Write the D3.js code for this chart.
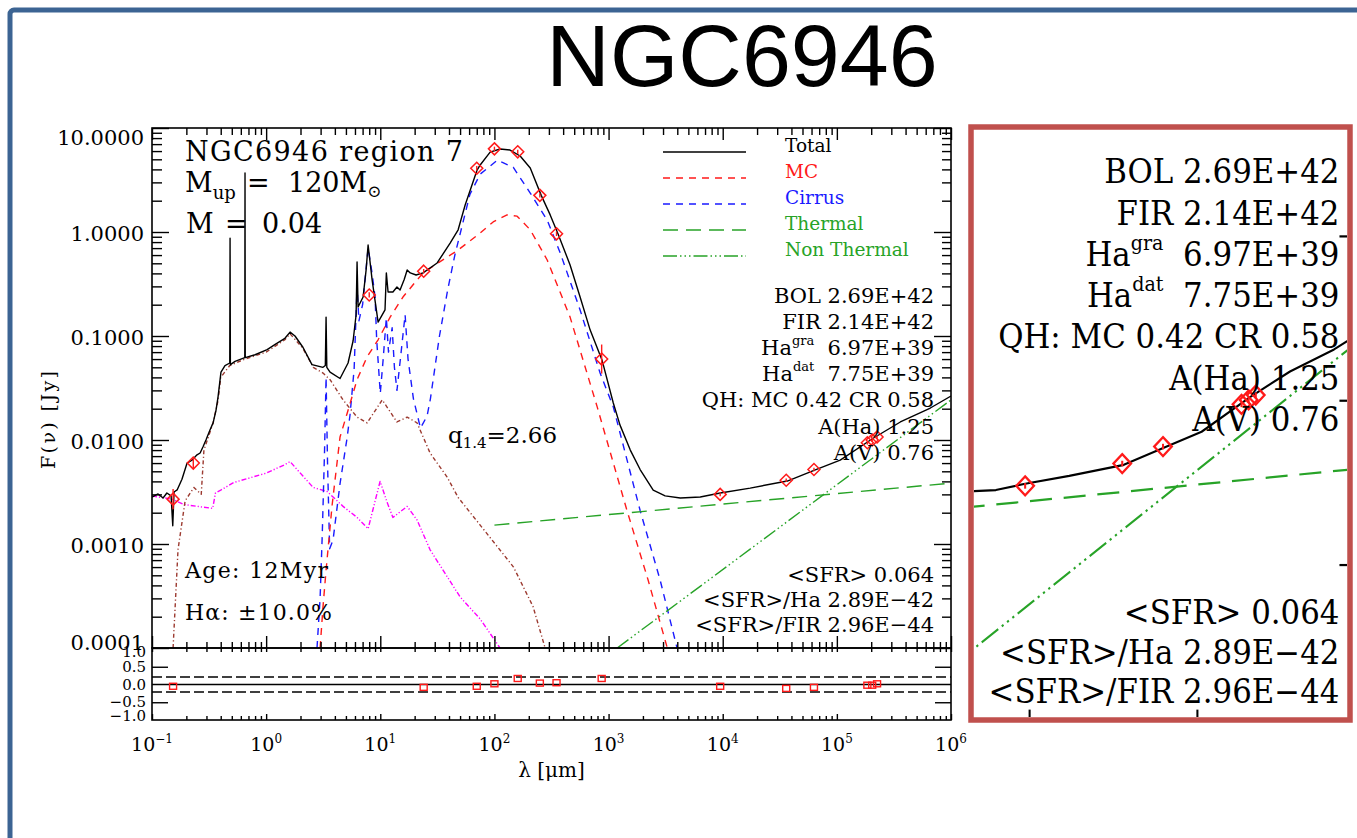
<!DOCTYPE html>
<html><head><meta charset="utf-8">
<script src="https://cdn.jsdelivr.net/npm/d3@7"></script>
<style>
html,body{margin:0;padding:0;background:#fff;}
svg{display:block}
text{font-family:"DejaVu Serif",serif;}
</style></head><body>
<svg id="chart" width="1357" height="838"></svg>
<script>
// ---------------- DATA (λ in µm, F(ν) in Jy) ----------------
const totalFit = [
[0.100,0.00283],[0.113,0.00303],[0.125,0.00277],[0.135,0.00309],[0.147,0.00290],[0.152,0.00150],[0.156,0.00316],[0.166,0.00331],[0.183,0.00420],[0.203,0.00600],[0.224,0.00640],[0.248,0.00720],[0.264,0.00750],[0.280,0.00860],[0.297,0.0100],[0.322,0.0125],[0.343,0.0146],[0.364,0.0194],[0.379,0.0260],[0.402,0.0450],[0.436,0.0520],[0.480,0.0550],[0.483,0.870],[0.486,0.0530],[0.534,0.0570],[0.650,0.0620],[0.653,3.69],[0.656,0.0620],[0.80,0.0660],[1.02,0.0740],[1.20,0.0830],[1.46,0.0950],[1.62,0.109],[1.79,0.100],[2.10,0.0780],[2.52,0.0530],[3.15,0.0500],[3.30,0.0520],[3.35,0.152],[3.40,0.0500],[3.63,0.0450],[4.44,0.0390],[5.22,0.0550],[5.78,0.0900],[6.14,0.160],[6.26,0.515],[6.39,0.190],[7.07,0.237],[7.51,0.430],[7.82,0.750],[8.48,0.346],[9.57,0.136],[11.0,0.178],[11.3,0.404],[11.7,0.265],[12.9,0.265],[14.0,0.296],[14.9,0.277],[16.2,0.350],[17.2,0.431],[18.3,0.404],[20.6,0.386],[23.7,0.404],[31.5,0.504],[40.9,0.783],[48.1,1.05],[55.4,1.82],[70.5,3.94],[75.0,4.41],[91.7,5.87],[112,6.28],[137,6.14],[168,5.38],[206,4.12],[257,2.25],[308,1.46],[361,0.957],[460,0.482],[563,0.237],[690,0.114],[879,0.058],[1100,0.0227],[1260,0.0139],[1550,0.0080],[1890,0.0052],[2460,0.0033],[3130,0.0029],[4250,0.00277],[6360,0.00283],[9510,0.00309],[17400,0.00345],[36800,0.00403],[64700,0.00515],[107000,0.0064],[208000,0.0104],[360000,0.0149],[659000,0.0203],[1000000,0.0265]
];
const mcFit = [
[2.97,1e-4],[3.15,0.00025],[3.35,0.00056],[3.79,0.0024],[4.44,0.0107],[5.12,0.018],[6.26,0.038],[7.66,0.063],[9.57,0.092],[12.2,0.152],[15.8,0.237],[21.0,0.346],[23.7,0.404],[38.5,0.575],[48.1,0.671],[75,0.978],[97.5,1.25],[129,1.46],[158,1.42],[206,1.05],[290,0.538],[460,0.152],[795,0.0208],[1450,0.0021],[2220,0.00045],[3270,1e-4]
];
const cirrusFit = [
[2.79,1e-4],[2.97,0.0003],[3.10,0.0012],[3.25,0.008],[3.35,0.040],[3.45,0.006],[3.60,0.0009],[3.86,0.0011],[4.44,0.0038],[5.12,0.0105],[5.43,0.0174],[5.90,0.048],[6.26,0.30],[6.50,0.14],[7.00,0.20],[7.82,0.70],[8.48,0.40],[9.00,0.237],[9.30,0.092],[10.0,0.028],[10.6,0.06],[11.3,0.15],[11.8,0.07],[12.7,0.12],[13.3,0.05],[14.0,0.03],[15.0,0.06],[16.5,0.16],[17.5,0.06],[19.5,0.025],[22.5,0.013],[25.7,0.017],[27.5,0.025],[33,0.10],[39,0.28],[45,0.60],[61,2.3],[75,3.6],[106,4.9],[146,4.2],[206,2.37],[290,1.30],[377,0.63],[563,0.178],[843,0.044],[1100,0.0208],[1890,0.0021],[2830,0.00045],[3980,1e-4]
];
const starlight = [
[0.153,1e-4],[0.169,0.00088],[0.195,0.0026],[0.233,0.0035],[0.27,0.0030],[0.285,0.0080],[0.343,0.0146],[0.379,0.024],[0.40,0.040],[0.48,0.052],[0.65,0.060],[1.0,0.070],[1.46,0.092],[1.62,0.105],[2.1,0.076],[2.59,0.050],[3.15,0.044],[3.63,0.038],[4.72,0.0243],[6.26,0.0166],[7.66,0.0146],[10.4,0.0243],[14.0,0.0149],[17.2,0.0166],[21.0,0.0146],[27.3,0.0075],[38.5,0.0044],[48.1,0.0028],[75,0.00152],[147,0.0006],[218,0.00025],[278,1e-4]
];
const starlightEscaped = [
[0.10,0.0029],[0.15,0.0027],[0.19,0.0024],[0.25,0.0023],[0.34,0.0022],[0.36,0.0031],[0.40,0.0033],[0.52,0.0039],[1.0,0.0048],[1.46,0.0058],[1.62,0.0062],[2.10,0.0045],[2.58,0.0035],[3.42,0.0032],[4.72,0.0023],[6.26,0.0018],[7.82,0.0014],[9.96,0.0040],[11.5,0.0025],[12.9,0.0018],[17.2,0.0023],[21.0,0.0017],[27.3,0.00088],[50,0.00031],[75,0.00019],[112,1e-4]
];
const thermalFit = [[100,0.00152],[1000000,0.00385]];
const nonThermalFit = [[1190,1e-4],[1000000,0.0243]];

const obsWavelength = [0.153,0.23,8.0,24,70,100,160,250,350,870,9500,36000,63000,185000,204000,225000];
const obsFlux       = [0.0027,0.0060,0.248,0.42,4.1,6.3,5.9,2.25,0.96,0.060,0.0030,0.0041,0.0052,0.0094,0.0100,0.0107];
const obsErrFactor  = [1.25,1.12,1.06,1.05,1.05,1.05,1.05,1.05,1.05,1.38,1.04,1.04,1.04,1.04,1.04,1.04];
const residual      = [-0.05,null,null,-0.08,-0.05,0.02,0.17,0.04,0.05,0.17,-0.05,-0.11,-0.08,-0.02,-0.02,0.02];
const residualBand  = 0.21;

const yTickValues = [1e-4,1e-3,1e-2,1e-1,1,10];
const yTickLabels = ["0.0001","0.0010","0.0100","0.1000","1.0000","10.0000"];
const xTickValues = [0.1,1,10,100,1e3,1e4,1e5,1e6];
const xTickExponents = ["\u22121","0","1","2","3","4","5","6"];
const resTickValues = [1,0.5,0,-0.5,-1];
const resTickLabels = ["1.0","0.5","0.0","\u22120.5","\u22121.0"];

const legendNames = ["Total","MC","Cirrus","Thermal","Non Thermal"];
const infoLines1 = [["BOL","","2.69E+42"],["FIR","","2.14E+42"],["Ha","gra","6.97E+39"],["Ha","dat","7.75E+39"],["QH: MC 0.42 CR","","0.58"],["A(Ha)","","1.25"],["A(V)","","0.76"]];
const infoLines2 = ["<SFR> 0.064","<SFR>/Ha 2.89E\u221242","<SFR>/FIR 2.96E\u221244"];

// ---------------- STYLE ----------------
const C = {black:"#000", red:"#ff1a1a", blue:"#1a1aff", green:"#27a327", brown:"#9c3a30", magenta:"#ff00ff"};
const DASH = {mc:"7,6", cirrus:"7,6", thermal:"15,8", nonth:"14,3,1.5,3,1.5,3,1.5,3", brown:"4,2.5,1.2,2.5", magenta:"5,2,1.2,2,1.2,2"};

const svg = d3.select("#chart");
const defs = svg.append("defs");
const L=152, Rr=951, T=128, B=648, RT=649, RB=720;
const x = d3.scaleLog().domain([0.1,1e6]).range([L,Rr]);
const y = d3.scaleLog().domain([1e-4,10]).range([B,T]);
const yr = d3.scaleLinear().domain([-1,1]).range([RB,RT]);

defs.append("clipPath").attr("id","plotClip").append("rect")
  .attr("x",L).attr("y",T).attr("width",Rr-L).attr("height",B-T);

const minors = (lo,hi)=>{const a=[];for(let d=lo;d<hi*0.999;d*=10)for(let k=2;k<=9;k++)a.push(k*d);return a;};
const xMinor = minors(0.1,1e6), yMinor = minors(1e-4,10);

function ticks(g, axisFn, scale, values, len, transformAttr){
  const a = g.append("g").attr("transform",transformAttr)
    .call(axisFn(scale).tickValues(values).tickSize(len).tickFormat(""));
  a.select(".domain").remove();
  a.selectAll("text").remove();
  a.selectAll("line").attr("stroke","#000").attr("stroke-width",1.4);
}

function drawPlot(g, inset){
  const line = d3.line().x(d=>x(d[0])).y(d=>y(d[1]));
  const cg = g.append("g").attr("clip-path","url(#plotClip)");
  const series = [
    [starlightEscaped,C.magenta,DASH.magenta],
    [starlight,C.brown,DASH.brown],
    [cirrusFit,C.blue,DASH.cirrus],
    [mcFit,C.red,DASH.mc],
    [thermalFit,C.green,DASH.thermal],
    [nonThermalFit,C.green,DASH.nonth],
    [totalFit,C.black,null]
  ];
  series.forEach(([d,col,dash])=>{
    cg.append("path").datum(d).attr("d",line).attr("fill","none")
      .attr("stroke",col).attr("stroke-width",1.4)
      .attr("stroke-dasharray",dash).attr("stroke-linejoin","round");
  });
  const obs = obsWavelength.map((w,i)=>({w,f:obsFlux[i],e:obsErrFactor[i],r:residual[i]}));
  cg.selectAll(".err").data(obs).join("line")
    .attr("x1",d=>x(d.w)).attr("x2",d=>x(d.w))
    .attr("y1",d=>y(d.f/d.e)).attr("y2",d=>y(d.f*d.e))
    .attr("stroke",C.red).attr("stroke-width",1.4);
  cg.selectAll(".dia").data(obs).join("path")
    .attr("transform",d=>`translate(${x(d.w)},${y(d.f)})`)
    .attr("d","M0,-6L6,0L0,6L-6,0Z").attr("fill","none")
    .attr("stroke",C.red).attr("stroke-width",1.5);

  g.append("rect").attr("x",L).attr("y",T).attr("width",Rr-L).attr("height",B-T)
    .attr("fill","none").attr("stroke","#000").attr("stroke-width",1.6);
  g.append("rect").attr("x",L).attr("y",B).attr("width",Rr-L).attr("height",RB-B)
    .attr("fill","none").attr("stroke","#000").attr("stroke-width",1.6);

  ticks(g,d3.axisRight,y,yTickValues,17,`translate(${L},0)`);
  ticks(g,d3.axisRight,y,yMinor,10,`translate(${L},0)`);
  ticks(g,d3.axisLeft,y,yTickValues,17,`translate(${Rr},0)`);
  ticks(g,d3.axisLeft,y,yMinor,9,`translate(${Rr},0)`);
  ticks(g,d3.axisBottom,x,xTickValues,12,`translate(0,${T})`);
  ticks(g,d3.axisBottom,x,xMinor,7,`translate(0,${T})`);
  ticks(g,d3.axisTop,x,xTickValues,12,`translate(0,${B})`);
  ticks(g,d3.axisTop,x,xMinor,6,`translate(0,${B})`);
  ticks(g,d3.axisBottom,x,xTickValues.concat(xMinor),4,`translate(0,${B})`);
  ticks(g,d3.axisTop,x,xTickValues,6,`translate(0,${RB})`);
  ticks(g,d3.axisTop,x,xMinor,4,`translate(0,${RB})`);
  ticks(g,d3.axisRight,yr,[0.5,-0.5],16,`translate(${L},0)`);
  ticks(g,d3.axisLeft,yr,[0.5,-0.5],16,`translate(${Rr},0)`);

  g.append("line").attr("x1",L).attr("x2",Rr).attr("y1",yr(0)).attr("y2",yr(0))
    .attr("stroke","#000").attr("stroke-width",1.4);
  [residualBand,-residualBand].forEach(v=>{
    g.append("line").attr("x1",L).attr("x2",Rr).attr("y1",yr(v)).attr("y2",yr(v))
      .attr("stroke","#000").attr("stroke-width",1.5).attr("stroke-dasharray","10,4");
  });
  g.selectAll(".sq").data(obs.filter(d=>d.r!==null)).join("rect")
    .attr("x",d=>x(d.w)-3.5).attr("y",d=>yr(d.r)-3).attr("width",7).attr("height",6)
    .attr("fill","none").attr("stroke",C.red).attr("stroke-width",1.4);

  infoLines1.forEach((p,i)=>{
    const t = g.append("text").attr("x",934).attr("y",303+i*26.1).attr("text-anchor","end").attr("font-size",21);
    t.append("tspan").text(p[0]);
    if(p[1]){
      t.append("tspan").attr("font-size",13).attr("dy",-10).text(p[1]);
      t.append("tspan").attr("dy",10).text("\u00a0\u00a0"+p[2]);
    } else t.append("tspan").text("\u00a0"+p[2]);
  });
  infoLines2.forEach((s,i)=>{
    g.append("text").attr("x",934).attr("y",582+i*25).attr("text-anchor","end").attr("font-size",21).text(s);
  });

  if(inset) return;

  yTickValues.forEach((v,i)=>{
    let yy = y(v)+2;
    if(i===yTickValues.length-1) yy = y(v)+9.5;
    if(i===0) yy = y(v)-5;
    g.append("text").attr("x",144).attr("y",yy).attr("text-anchor","end")
      .attr("dominant-baseline","central").attr("font-size",21).text(yTickLabels[i]);
  });
  resTickValues.forEach((v,i)=>{
    let yy = yr(v);
    if(v===1) yy = yr(v)+3; if(v===-1) yy = yr(v)-4;
    g.append("text").attr("x",146).attr("y",yy).attr("text-anchor","end")
      .attr("dominant-baseline","central").attr("font-size",15).text(resTickLabels[i]);
  });
  xTickValues.forEach((v,i)=>{
    const t = g.append("text").attr("x",x(v)).attr("y",751).attr("text-anchor","middle").attr("font-size",19);
    t.append("tspan").text("10");
    t.append("tspan").attr("font-size",12).attr("dy",-8).text(xTickExponents[i]);
  });
  g.append("text").attr("x",(L+Rr)/2).attr("y",777).attr("text-anchor","middle").attr("font-size",20)
    .text("\u03bb [\u03bcm]");
  g.append("text").attr("transform","translate(55,420) rotate(-90)").attr("text-anchor","middle")
    .attr("font-size",19).attr("textLength",98).attr("lengthAdjust","spacing").text("F(\u03bd) [Jy]");

  g.append("text").attr("x",185).attr("y",161).attr("font-size",27).attr("textLength",278)
    .attr("lengthAdjust","spacing").text("NGC6946 region 7");
  const t2 = g.append("text").attr("y",192).attr("font-size",27);
  t2.append("tspan").attr("x",185).text("M");
  t2.append("tspan").attr("font-size",18).attr("dy",7).text("up");
  t2.append("tspan").attr("x",247).attr("dy",-7).text("=");
  t2.append("tspan").attr("x",288).text("120M");
  t2.append("tspan").attr("font-size",17).attr("dy",5).text("\u2299");
  const t3 = g.append("text").attr("y",233).attr("font-size",27);
  t3.append("tspan").attr("x",186).text("M");
  t3.append("tspan").attr("x",225).text("=");
  t3.append("tspan").attr("x",262).text("0.04");
  const tq = g.append("text").attr("x",448).attr("y",443).attr("font-size",23);
  tq.append("tspan").text("q");
  tq.append("tspan").attr("font-size",15).attr("dy",5).text("1.4");
  tq.append("tspan").attr("dy",-5).text("=2.66");
  g.append("text").attr("x",185).attr("y",578).attr("font-size",22).attr("textLength",143)
    .attr("lengthAdjust","spacing").text("Age: 12Myr");
  g.append("text").attr("x",185).attr("y",620).attr("font-size",22).attr("textLength",147)
    .attr("lengthAdjust","spacing").text("H\u03b1: \u00b110.0%");

  const legCol = [C.black,C.red,C.blue,C.green,C.green];
  const legDash = [null,DASH.mc,DASH.cirrus,DASH.thermal,DASH.nonth];
  legendNames.forEach((n,i)=>{
    const yy = 152 + i*26;
    g.append("line").attr("x1",663).attr("x2",746).attr("y1",yy).attr("y2",yy)
      .attr("stroke",legCol[i]).attr("stroke-width",1.5).attr("stroke-dasharray",legDash[i]);
    g.append("text").attr("x",785).attr("y",yy).attr("font-size",18.5)
      .attr("fill",legCol[i]).text(n);
  });
}

svg.append("rect").attr("x",10).attr("y",10).attr("width",1420).attr("height",900).attr("rx",4)
  .attr("fill","none").attr("stroke","#3c6493").attr("stroke-width",5);

svg.append("text").attr("x",742).attr("y",86).attr("text-anchor","middle")
  .style("font-family","'Liberation Sans', Arial, sans-serif").attr("font-size",88).text("NGC6946");

drawPlot(svg.append("g"), false);

defs.append("clipPath").attr("id","boxClip").append("rect")
  .attr("x",974).attr("y",130).attr("width",373).attr("height",587);
svg.append("rect").attr("x",971).attr("y",127).attr("width",379).attr("height",593).attr("fill","#fff");
const inset = svg.append("g").attr("clip-path","url(#boxClip)")
  .append("g").attr("transform","translate(1338,174) scale(1.47,1.58) translate(-933,-297)");
drawPlot(inset, true);
svg.append("rect").attr("x",971).attr("y",127).attr("width",379).attr("height",593)
  .attr("fill","none").attr("stroke","#c0504d").attr("stroke-width",5.5);
</script>
</body></html>
